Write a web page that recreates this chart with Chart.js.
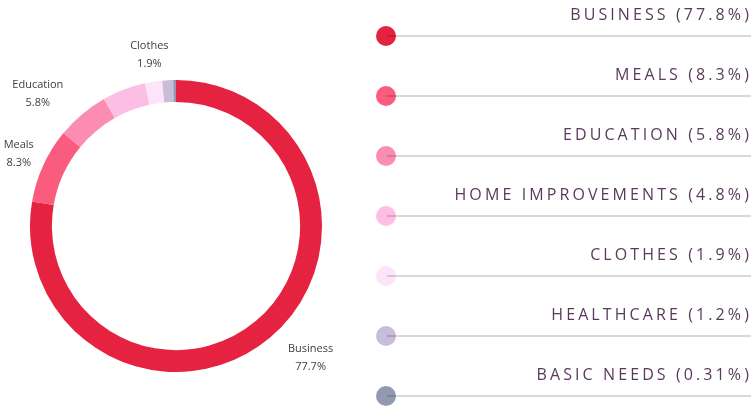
<!DOCTYPE html>
<html lang="en">
<head>
<meta charset="UTF-8">
<title>Spending breakdown</title>
<script src="https://cdn.jsdelivr.net/npm/chart.js"></script>
<style>
  html, body { margin: 0; padding: 0; background: #fff; }
  #wrap { width: 751px; height: 411px; }
</style>
</head>
<body>
<div id="wrap"><canvas id="donut" width="751" height="411"></canvas></div>
<script>
const categories = ['Business', 'Meals', 'Education', 'Home Improvements', 'Clothes', 'Healthcare', 'Basic Needs'];
const values = [77.7, 8.3, 5.8, 4.8, 1.9, 1.2, 0.31];
const sliceLabels = ['77.7%', '8.3%', '5.8%', null, '1.9%', null, null];   // only these get a label on the ring
const legendPct = ['77.8%', '8.3%', '5.8%', '4.8%', '1.9%', '1.2%', '0.31%'];
const colors = ['#e5223f', '#f95c7f', '#fb8db3', '#fdbee4', '#fde4fa', '#c9bed9', '#9399b1'];

// labels around the ring, placed along each slice's mid angle
const sliceLabelPlugin = {
  id: 'sliceLabels',
  afterDatasetsDraw(chart, args, opts) {
    const ctx = chart.ctx;
    const arcs = chart.getDatasetMeta(0).data;
    ctx.save();
    ctx.font = '11px "Open Sans"';
    ctx.fillStyle = '#404040';
    ctx.textAlign = 'center';
    ctx.textBaseline = 'middle';
    arcs.forEach((arc, i) => {
      if (!sliceLabels[i]) return;
      const mid = (arc.startAngle + arc.endAngle) / 2;
      const r = arc.outerRadius + opts.gap;
      const x = arc.x + Math.cos(mid) * r + (opts.nudgeX[i] || 0);
      const y = arc.y + Math.sin(mid) * r;
      ctx.fillText(categories[i], x, y - 9);
      ctx.fillText(sliceLabels[i], x, y + 9);
    });
    ctx.restore();
  }
};

// legend on the right: dot, rule and spaced caps text
const sideLegendPlugin = {
  id: 'sideLegend',
  afterDraw(chart) {
    const ctx = chart.ctx;
    const w = chart.width;
    ctx.save();
    categories.forEach((name, i) => {
      const y = 36 + i * 60;
      ctx.beginPath();
      ctx.arc(386, y, 10, 0, Math.PI * 2);
      ctx.fillStyle = colors[i];
      ctx.fill();
      ctx.beginPath();
      ctx.moveTo(387, y);
      ctx.lineTo(w, y);
      ctx.strokeStyle = 'rgba(0,0,0,0.2)';
      ctx.lineWidth = 1.5;
      ctx.stroke();
      ctx.font = '16px "Open Sans"';
      ctx.letterSpacing = '3.1px';
      ctx.fillStyle = '#5a3a5c';
      ctx.textAlign = 'right';
      ctx.textBaseline = 'alphabetic';
      ctx.fillText(name.toUpperCase() + ' (' + legendPct[i] + ')', w + 1, y - 16);
    });
    ctx.restore();
  }
};

new Chart(document.getElementById('donut'), {
  type: 'doughnut',
  data: {
    labels: categories,
    datasets: [{
      data: values,
      backgroundColor: colors,
      borderWidth: 0
    }]
  },
  options: {
    responsive: false,
    animation: false,
    cutout: '85%',
    layout: { padding: { left: 30, right: 429, top: 80, bottom: 39 } },
    plugins: {
      legend: { display: false },
      tooltip: { enabled: false },
      sliceLabels: { gap: 27, nudgeX: [23, 0, -27, 0, 0, 0, 0] }
    }
  },
  plugins: [sliceLabelPlugin, sideLegendPlugin]
});
</script>
</body>
</html>
